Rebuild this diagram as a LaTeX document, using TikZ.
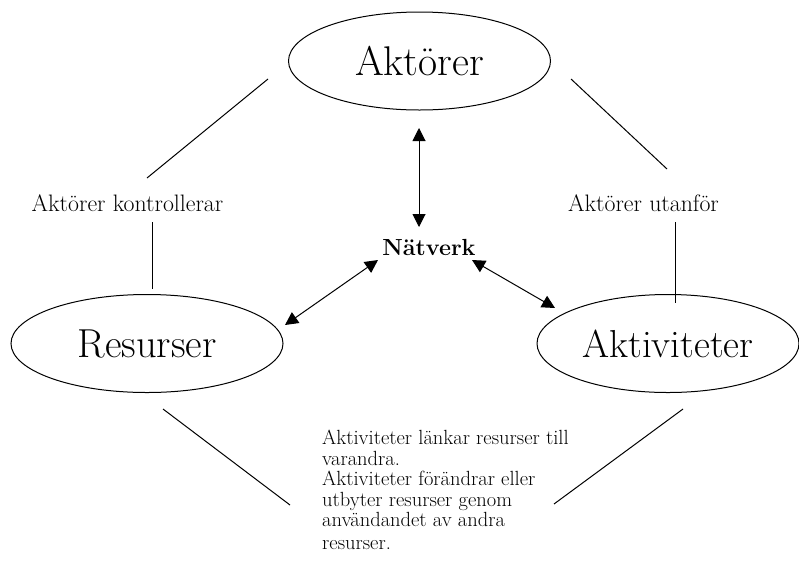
\documentclass[tikz,border=0pt]{standalone}
\usetikzlibrary{shapes.geometric,arrows.meta}
\begin{document}
\begin{tikzpicture}[x=1pt,y=-1pt,
  oval/.style={draw,ellipse,line width=1pt,inner sep=0pt,minimum width=262pt,minimum height=98pt},
  lbl/.style={inner sep=0pt,font=\fontsize{23.8}{26}\selectfont},
  conn/.style={line width=1pt},
  dbl/.style={line width=1pt,{Triangle[length=13pt,width=13pt]}-{Triangle[length=13pt,width=13pt]}}]
\useasboundingbox (0,0) rectangle (799,568);
\node[oval,font=\fontsize{41.5}{44}\selectfont] (akt) at (419.5,61) {Aktörer};
\node[oval,minimum width=272pt,font=\fontsize{40.5}{44}\selectfont] (res) at (147,343.5) {Resurser};
\node[oval,font=\fontsize{39}{44}\selectfont] (aktv) at (668,343.5) {Aktiviteter};
\node[inner sep=0pt,font=\fontsize{23.3}{25}\selectfont\bfseries] (nat) at (429,247) {Nätverk};
\node[lbl] (kon) at (127.5,203) {Aktörer kontrollerar};
\node[lbl] (uta) at (643.5,203) {Aktörer utanför};
\node[inner sep=0pt,anchor=north west,align=left,font=\fontsize{20.5}{20.5}\selectfont] (txt) at (322,430)
  {Aktiviteter länkar resurser till\\ varandra.\\ Aktiviteter förändrar eller\\ utbyter resurser genom\\ användandet av andra\\[2pt] resurser.};
% free ends
\coordinate (l1a) at (268,79); \coordinate (l1b) at (147,178);
\coordinate (l2a) at (152,222); \coordinate (l2b) at (152,289);
\coordinate (r1a) at (571,79); \coordinate (r1b) at (667,169);
\coordinate (r2a) at (675,222); \coordinate (r2b) at (675,303);
\coordinate (b1a) at (163,409); \coordinate (b1b) at (290,505);
\coordinate (b2a) at (683,409); \coordinate (b2b) at (554,504);
\coordinate (va) at (419,128); \coordinate (vb) at (419,227);
\coordinate (la) at (378,260); \coordinate (lb) at (285,325);
\coordinate (ra) at (472,260); \coordinate (rb) at (555,308);
\draw[conn] (l1a) -- (l1b);
\draw[conn] (l2a) -- (l2b);
\draw[conn] (r1a) -- (r1b);
\draw[conn] (r2a) -- (r2b);
\draw[conn] (b1a) -- (b1b);
\draw[conn] (b2a) -- (b2b);
\draw[dbl] (va) -- (vb);
\draw[dbl] (la) -- (lb);
\draw[dbl] (ra) -- (rb);
\end{tikzpicture}
\end{document}
